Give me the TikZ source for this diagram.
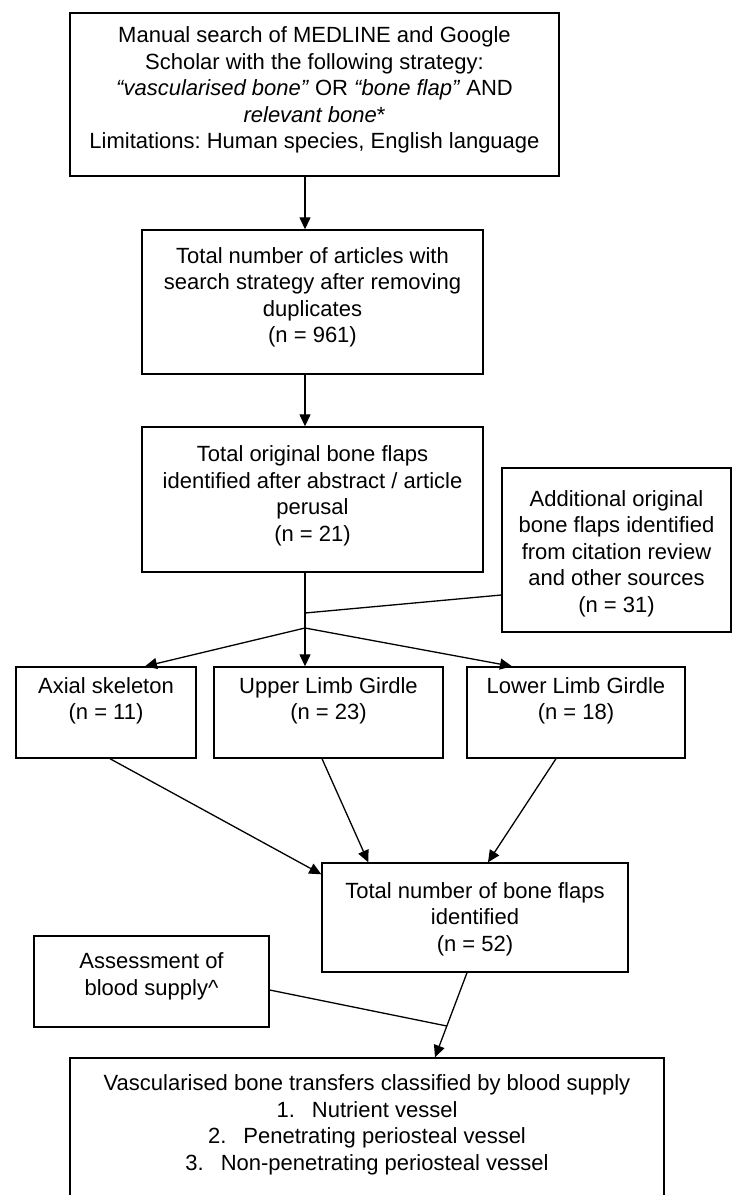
\documentclass[tikz,border=0pt]{standalone}
\usepackage{fontspec}
\setmainfont{Liberation Sans}
\usetikzlibrary{arrows.meta,calc}
\frenchspacing
\begin{document}
\begin{tikzpicture}[x=1pt,y=-1pt,
  box/.style={draw=black,line width=1.4pt,rectangle,inner sep=0pt},
  txt/.style={align=center,inner sep=0pt,font=\fontsize{22}{26.5}\selectfont},
  arr/.style={line width=1.3pt,-{Triangle[length=12pt,width=11pt]}},
  ln/.style={line width=1.3pt}]
\useasboundingbox (0,0) rectangle (733,1195);
\clip (0,0) rectangle (733,1195);
% boxes
\node[box,minimum width=489pt,minimum height=163pt] (top) at (314.5,94.5) {};
\node[box,minimum width=341pt,minimum height=144pt] (b2) at (312.5,302) {};
\node[box,minimum width=341pt,minimum height=145pt] (b3) at (312.5,499.5) {};
\node[box,minimum width=229pt,minimum height=164pt] (side) at (616.5,550) {};
\node[box,minimum width=180pt,minimum height=91pt] (axial) at (106,712.5) {};
\node[box,minimum width=229pt,minimum height=91pt] (upper) at (328.5,712.5) {};
\node[box,minimum width=218pt,minimum height=91pt] (lower) at (576,712.5) {};
\node[box,minimum width=306pt,minimum height=109pt] (total) at (475,917.5) {};
\node[box,minimum width=235pt,minimum height=91pt] (assess) at (151.5,981.5) {};
\node[box,minimum width=594pt,minimum height=157pt] (bottom) at (367,1136.5) {};
% texts
\node[txt] (topt) at (314.5,90) {Manual search of MEDLINE and Google\\Scholar with the following strategy:\\\textit{“vascularised bone”} OR \textit{“bone flap”} AND\\\textit{relevant bone}*\\Limitations: Human species, English language};
\node[txt] (b2t) at (312.5,297.5) {Total number of articles with\\search strategy after removing\\duplicates\\(n = 961)};
\node[txt] (b3t) at (312.5,496) {Total original bone flaps\\identified after abstract / article\\perusal\\(n = 21)};
\node[txt] (sidet) at (616.5,553.5) {Additional original\\bone flaps identified\\from citation review\\and other sources\\(n = 31)};
\node[txt] (axialt) at (106,701) {Axial skeleton\\(n = 11)};
\node[txt] (uppert) at (328.5,701) {Upper Limb Girdle\\(n = 23)};
\node[txt] (lowert) at (576,701) {Lower Limb Girdle\\(n = 18)};
\node[txt] (totalt) at (475,919) {Total number of bone flaps\\identified\\(n = 52)};
\node[txt] (assesst) at (151.5,976.5) {Assessment of\\blood supply\textasciicircum};
\node[txt] (bottomt) at (367,1125) {Vascularised bone transfers classified by blood supply\\1.\hspace{17pt}Nutrient vessel\\2.\hspace{17pt}Penetrating periosteal vessel\\3.\hspace{17pt}Non-penetrating periosteal vessel};
% connectors
\coordinate (br) at (305,628);
\coordinate (jn) at (305,613);
\draw[arr] (top.south -| br) -- (b2.north -| br);
\draw[arr] (b2.south -| br) -- (b3.north -| br);
\draw[arr] (b3.south -| br) -- (upper.north -| br);
\draw[ln] ([yshift=-45pt]side.west) -- (jn);
\draw[arr] (br) -- ([xshift=39pt]axial.north);
\draw[arr] (br) -- ([xshift=-64pt]lower.north);
\draw[arr] ([xshift=4pt]axial.south) -- ([yshift=-12pt]total.north west);
\draw[arr] ([xshift=-6.5pt]upper.south) -- ([xshift=47pt]total.north west);
\draw[arr] ([xshift=-20pt]lower.south) -- ([xshift=13pt]total.north);
\coordinate (t1) at ([xshift=-8pt]total.south);
\coordinate (t2) at ([xshift=68pt]bottom.north);
\draw[arr] (t1) -- (t2);
\draw[ln] ([yshift=-8.5pt]assess.east) -- ($(t1)!0.63!(t2)$);
\end{tikzpicture}
\end{document}
